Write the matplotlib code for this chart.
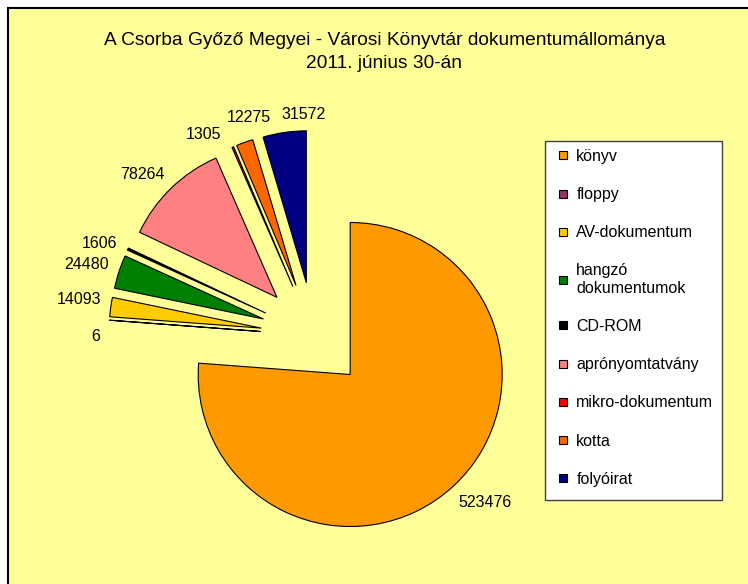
import matplotlib
matplotlib.use('Agg')
import matplotlib.pyplot as plt
from matplotlib.patches import Rectangle
from matplotlib.lines import Line2D
import numpy as np

plt.rcParams['font.family'] = ['Liberation Sans', 'DejaVu Sans']

categories = ['könyv', 'floppy', 'AV-dokumentum', 'hangzó\ndokumentumok', 'CD-ROM',
              'aprónyomtatvány', 'mikro-dokumentum', 'kotta', 'folyóirat']
values = [523476, 6, 14093, 24480, 1606, 78264, 1305, 12275, 31572]
colors = ['#FF9900', '#993366', '#FFCC00', '#008000', '#000000',
          '#FF8080', '#FF0000', '#FF6600', '#000080']
# small angular nudges (deg, clockwise) to follow the original label placement
label_nudge = [-3.6, -6, 1, -1, -2.3, -3.4, -7, 4.2, 7.3]

W, H = 748, 584
fig = plt.figure(figsize=(W / 100, H / 100), dpi=100)
fig.patch.set_facecolor('white')
ax = fig.add_axes([0, 0, 1, 1])

# chart area background
ax.add_patch(Rectangle((8, -10), W + 20, H - 8 + 10, facecolor='#FFFF99',
                       edgecolor='black', linewidth=1.5, zorder=0))

R = 152
cx, cy = 314, H - 335.5
explode = [0.35 * R] * len(values)   # matplotlib uses absolute offsets
wedges, _ = ax.pie(values, colors=colors, explode=explode, radius=R,
                   center=(cx, cy), startangle=90, counterclock=False,
                   wedgeprops=dict(edgecolor='black', linewidth=0.8))

ax.set_xlim(0, W)
ax.set_ylim(0, H)
ax.axis('off')

# title
ax.text(384.5, H - 45, 'A Csorba Győző Megyei - Városi Könyvtár dokumentumállománya',
        ha='center', va='baseline', fontsize=13.8)
ax.text(384.5, H - 68, '2011. június 30-án', ha='center', va='baseline', fontsize=13.8)

# value labels outside the slices
texts = [ax.text(0, 0, str(v), ha='center', va='center', fontsize=11.5) for v in values]
fig.canvas.draw()
renderer = fig.canvas.get_renderer()
gap = 9
for w, t, nud in zip(wedges, texts, label_nudge):
    mid = np.deg2rad((w.theta1 + w.theta2) / 2 - nud)
    dx, dy = np.cos(mid), np.sin(mid)
    bb = t.get_window_extent(renderer)
    ext = abs(dx) * bb.width / 2 + abs(dy) * bb.height / 2
    d = w.r + gap + ext
    t.set_position((w.center[0] + d * dx, w.center[1] + d * dy))

# legend
ax.add_patch(Rectangle((545, H - 500), 177, 359, facecolor='white',
                       edgecolor='#404040', linewidth=1, zorder=3))
handles = [Line2D([], [], ls='none', marker='s', ms=5.8, mfc=c, mec='black', mew=0.8)
           for c in colors]
leg = ax.legend(handles, categories, loc='upper left',
                bbox_to_anchor=(550 / W, 1 - 149 / H), bbox_transform=fig.transFigure,
                frameon=False, fontsize=11.5, borderpad=0, borderaxespad=0,
                handlelength=1.6, handletextpad=0.05, labelspacing=1.45)
leg.set_zorder(4)

fig.savefig('out.png', dpi=100, facecolor=fig.get_facecolor())
